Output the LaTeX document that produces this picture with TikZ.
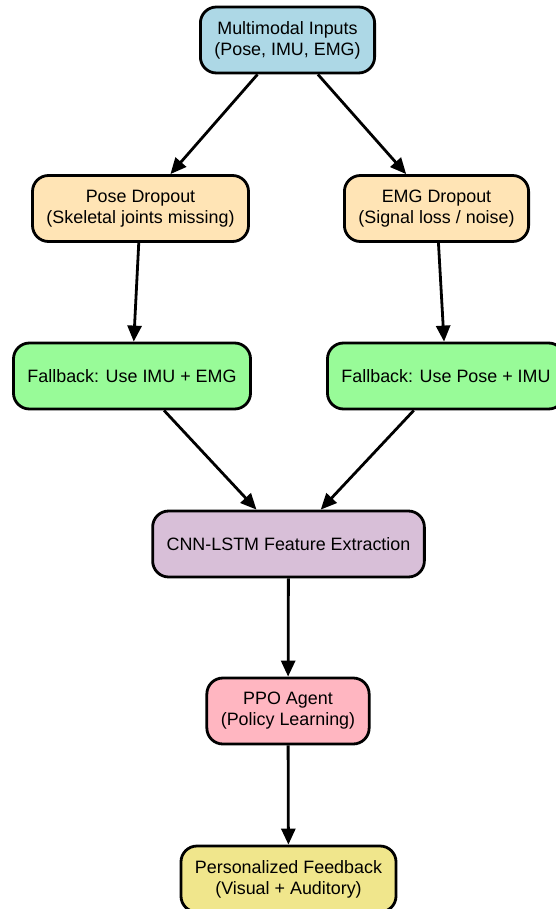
\documentclass[tikz,border=0pt]{standalone}
\usepackage{fontspec}
\setmainfont{Liberation Sans}
\usetikzlibrary{arrows.meta}
\definecolor{inputblue}{HTML}{ADD8E6}
\definecolor{dropbeige}{HTML}{FFE4B5}
\definecolor{fallgreen}{HTML}{98FB98}
\definecolor{featpurple}{HTML}{D8BFD8}
\definecolor{agentpink}{HTML}{FFB6C1}
\definecolor{fbkhaki}{HTML}{F0E68C}

\begin{document}
\begin{tikzpicture}[x=1pt,y=1pt,
	box/.style={draw, line width=2.8pt, rounded corners=16pt, align=center, inner xsep=14pt, minimum height=66pt, font=\fontsize{17.9}{21}\selectfont},
	flow/.style={line width=2.8pt, -{Triangle[length=16pt,width=14pt]}}]
	\useasboundingbox (0,0) rectangle (556,-909);
	
	\node[box, fill=inputblue] (inputs) at (287.5,-40) {Multimodal Inputs\\(Pose, IMU, EMG)};
	\node[box, fill=dropbeige] (posedrop) at (140.5,-208.5) {Pose Dropout\\(Skeletal joints missing)};
	\node[box, fill=dropbeige] (emgdrop) at (436.5,-208.5) {EMG Dropout\\(Signal loss / noise)};
	\node[box, fill=fallgreen] (fallimu) at (132,-376) {Fallback: Use IMU + EMG};
	\node[box, fill=fallgreen] (fallpose) at (446,-376) {Fallback: Use Pose + IMU};
	\node[box, fill=featpurple] (cnnlstm) at (288.5,-544) {CNN-LSTM Feature Extraction};
	\node[box, fill=agentpink] (ppo) at (288,-711) {PPO Agent\\(Policy Learning)};
	\node[box, fill=fbkhaki] (feedback) at (288.5,-879) {Personalized Feedback\\(Visual + Auditory)};
	
	\draw[flow] (inputs) -- (posedrop);
	\draw[flow] (inputs) -- (emgdrop);
	\draw[flow] (posedrop) -- (fallimu);
	\draw[flow] (emgdrop) -- (fallpose);
	\draw[flow] (fallimu) -- (cnnlstm);
	\draw[flow] (fallpose) -- (cnnlstm);
	\draw[flow] (cnnlstm) -- (ppo);
	\draw[flow] (ppo) -- (feedback);
\end{tikzpicture}
\end{document}
